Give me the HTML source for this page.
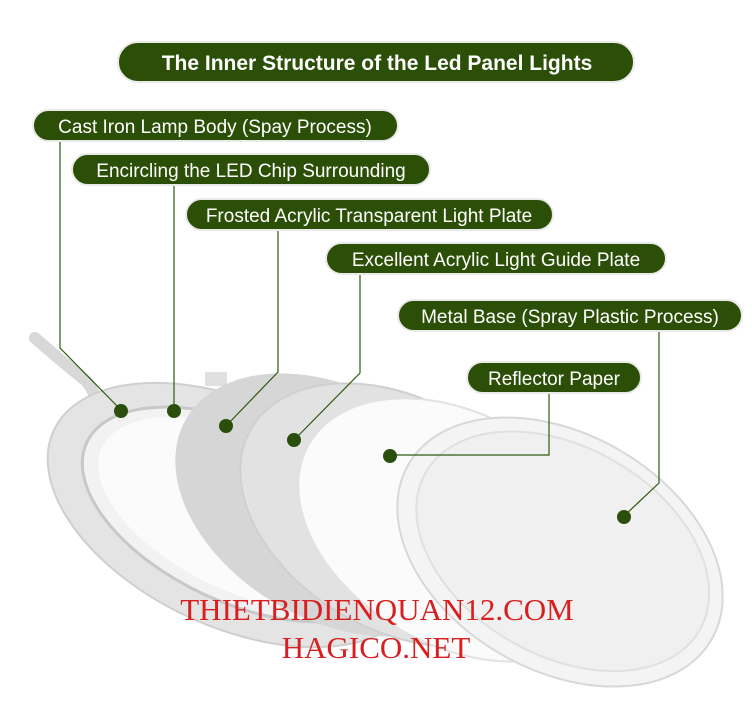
<!DOCTYPE html>
<html><head><meta charset="utf-8"><style>
html,body{margin:0;padding:0;background:#fff;overflow:hidden;width:752px;height:708px}
svg{display:block}
</style></head><body>
<svg width="752" height="708" viewBox="0 0 752 708" xmlns="http://www.w3.org/2000/svg">
<rect width="752" height="708" fill="#fff"/>
<!-- cable -->
<path d="M35 338 Q60 360 85 380 Q100 395 95 420" stroke="#d8d8d8" stroke-width="12" fill="none" stroke-linecap="round"/>
<!-- ring -->
<g transform="rotate(25 235 515)">
<ellipse cx="235" cy="515" rx="200" ry="112" fill="#e4e4e4" stroke="#cfcfcf" stroke-width="2"/>
<ellipse cx="240" cy="512" rx="170" ry="88" fill="#f2f2f2" stroke="#c8c8c8" stroke-width="3"/>
<ellipse cx="244" cy="510" rx="158" ry="78" fill="#fbfbfb"/>
</g>
<rect x="205" y="372" width="22" height="14" fill="#e0e0e0"/>
<!-- frosted -->
<g transform="rotate(30 335 505)">
<ellipse cx="335" cy="505" rx="172" ry="115" fill="#d6d6d6"/>
</g>
<!-- light guide -->
<g transform="rotate(30 400 515)">
<ellipse cx="400" cy="515" rx="172" ry="115" fill="#e2e2e2" stroke="#d0d0d0" stroke-width="2"/>
</g>
<!-- reflector -->
<g transform="rotate(30 458 530)">
<ellipse cx="458" cy="530" rx="172" ry="115" fill="#fbfbfb" stroke="#e2e2e2" stroke-width="2"/>
</g>
<!-- metal base -->
<g transform="rotate(30 560 552)">
<ellipse cx="560" cy="552" rx="175" ry="118" fill="#f4f4f4" stroke="#d8d8d8" stroke-width="2"/>
<ellipse cx="562" cy="550" rx="158" ry="104" fill="#f0f0f0" stroke="#e0e0e0" stroke-width="2"/>
</g>
<!-- connectors -->
<g stroke="#2f5a10" stroke-width="1.2" fill="none">
<path d="M60 140 V348 L121 410"/>
<path d="M174 185 V410"/>
<path d="M278 230 V372 L226 426"/>
<path d="M360 274 V373 L294 440"/>
<path d="M549 393 V455 H390"/>
<path d="M659 331 V483 L624 516"/>
</g>
<g fill="#2a4f0c">
<circle cx="121" cy="411" r="7"/><circle cx="174" cy="411" r="7"/><circle cx="226" cy="426" r="7"/>
<circle cx="294" cy="440" r="7"/><circle cx="390" cy="456" r="7"/><circle cx="624" cy="517" r="7"/>
</g>
<!-- pills -->
<g fill="#2c4f07" stroke="#eaeaea" stroke-width="2">
<rect x="118" y="42" width="516" height="40" rx="20"/>
<rect x="33" y="110" width="365" height="31" rx="15.5"/>
<rect x="72" y="154" width="358" height="31" rx="15.5"/>
<rect x="186" y="199" width="367" height="31" rx="15.5"/>
<rect x="326" y="243" width="340" height="31" rx="15.5"/>
<rect x="398" y="300" width="344" height="31" rx="15.5"/>
<rect x="467" y="362" width="174" height="31" rx="15.5"/>
</g>
<g fill="#fff" font-family="Liberation Sans, sans-serif" text-anchor="middle">
<text x="377" y="70" font-size="21" font-weight="bold">The Inner Structure of the Led Panel Lights</text>
<text x="215" y="133" font-size="19">Cast Iron Lamp Body (Spay Process)</text>
<text x="251" y="177" font-size="19">Encircling the LED Chip Surrounding</text>
<text x="369" y="222" font-size="19">Frosted Acrylic Transparent Light Plate</text>
<text x="496" y="266" font-size="19">Excellent Acrylic Light Guide Plate</text>
<text x="570" y="323" font-size="19">Metal Base (Spray Plastic Process)</text>
<text x="554" y="385" font-size="19">Reflector Paper</text>
</g>
<g fill="#d81e1e" font-family="Liberation Serif, serif" text-anchor="middle" font-size="31">
<text x="377" y="620">THIETBIDIENQUAN12.COM</text>
<text x="376" y="658">HAGICO.NET</text>
</g>
</svg>
</body></html>
